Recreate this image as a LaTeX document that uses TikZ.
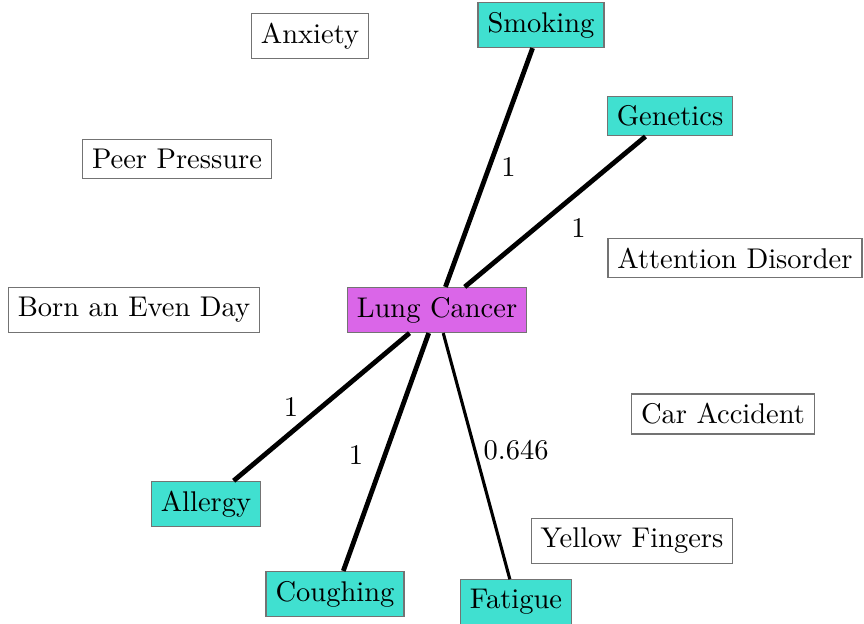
\documentclass[tikz,border=0pt]{standalone}
\usepackage{amssymb}
\usepackage{amsmath}
\usepackage{tikz}
\usetikzlibrary{calc,positioning}

\definecolor{causecol}{RGB}{64,224,208}
\definecolor{targetcol}{RGB}{218,102,232}

\begin{document}
\begin{tikzpicture}[x=0.3333pt, y=-0.3333pt,
    every node/.style={font=\fontsize{9.5}{11.4}\selectfont},
    var/.style={draw=black!55, line width=0.4pt, fill=white, inner sep=3.17pt},
    linked/.style={var, fill=causecol},
    target/.style={var, fill=targetcol},
    weight/.style={line width=#1*1.6pt}]
    \useasboundingbox (0,0) rectangle (864,623);
    \node[target] (lung) at (437,310) {Lung Cancer};
    \node[linked] (smoking) at (541,25) {Smoking};
    \node[linked] (genetics) at (670,116) {Genetics};
    \node[linked] (allergy) at (206,504) {Allergy};
    \node[linked] (coughing) at (335,594) {Coughing};
    \node[linked] (fatigue) at (516,602) {Fatigue};
    \draw[weight=1] (lung) -- (smoking) node[midway, right=0pt] {1};
    \draw[weight=1] (lung) -- (genetics) node[midway, below right=-2pt and 1.3pt] {1};
    \draw[weight=1] (lung) -- (allergy) node[midway, left=3.7pt] {1};
    \draw[weight=1] (lung) -- (coughing) node[midway, left=3.5pt, yshift=-1pt] {1};
    \draw[weight=0.646] (lung) -- (fatigue) node[midway, right=-1.5pt, yshift=2pt] {0.646};
    % nodes without a link
    \node[var] (anxiety) at (310,36) {Anxiety};
    \node[var] (peer) at (177,159) {Peer Pressure};
    \node[var] (attention) at (735,258) {Attention Disorder};
    \node[var] (born) at (134,310) {Born an Even Day};
    \node[var] (car) at (723,414) {Car Accident};
    \node[var] (yellow) at (632,541) {Yellow Fingers};
\end{tikzpicture}
\end{document}
